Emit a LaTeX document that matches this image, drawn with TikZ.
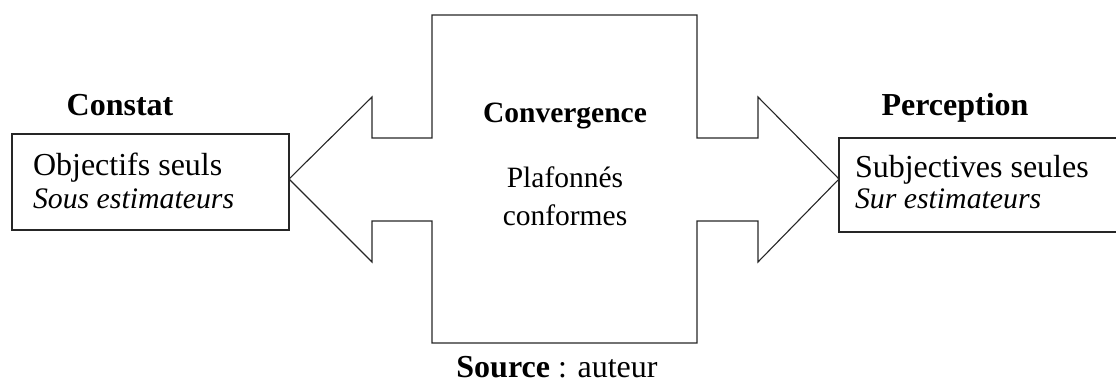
\documentclass[tikz,border=0pt]{standalone}
\usepackage{fontspec}
\setmainfont{Liberation Serif}
\begin{document}
\begin{tikzpicture}[x=1pt,y=-1pt,
  line/.style={draw=black!85,line width=1.1pt},
  txt/.style={inner sep=0pt,outer sep=0pt,font=\fontsize{32}{36}\selectfont},
  small/.style={txt,font=\fontsize{29.5}{33}\selectfont},
  ital/.style={txt,font=\fontsize{29.8}{33}\selectfont\itshape},
  head/.style={txt,font=\fontsize{32}{36}\selectfont\bfseries},
  boxnode/.style={line,inner sep=0pt,rectangle}]
\useasboundingbox (0,0) rectangle (1116,381);
\clip (0,0) rectangle (1116,381);
% central double arrow shape
\draw[line,line join=miter] (432,15) -- (697,15) -- (697,138) -- (758,138) -- (758,97)
  -- (839,179) -- (758,262) -- (758,221) -- (697,221) -- (697,343) -- (432,343)
  -- (432,221) -- (372,221) -- (372,262) -- (289,179) -- (372,97) -- (372,138)
  -- (432,138) -- cycle;
% side boxes
\node[boxnode,minimum width=277pt,minimum height=96pt] (lbox) at (150.5,182) {};
\node[boxnode,minimum width=284pt,minimum height=94pt] (rbox) at (981,185) {};
% texts
\node[head,anchor=base] (constat) at (120,115) {Constat};
\node[txt,anchor=base west] (obj) at (33,175) {Objectifs seuls};
\node[ital,anchor=base west] (sous) at (33,208) {Sous estimateurs};
\node[head,anchor=base] (perc) at (955,115) {Perception};
\node[txt,anchor=base west] (subj) at (855,177) {Subjectives seules};
\node[ital,anchor=base west] (sur) at (855,208) {Sur estimateurs};
\node[small,anchor=base,font=\fontsize{29.5}{33}\selectfont\bfseries] (conv) at (565,122) {Convergence};
\node[small,anchor=base] (plaf) at (565,187) {Plafonnés};
\node[small,anchor=base] (conf) at (565,225) {conformes};
\node[txt,anchor=base] (src) at (557,377) {\textbf{Source} : auteur};
\end{tikzpicture}
\end{document}
